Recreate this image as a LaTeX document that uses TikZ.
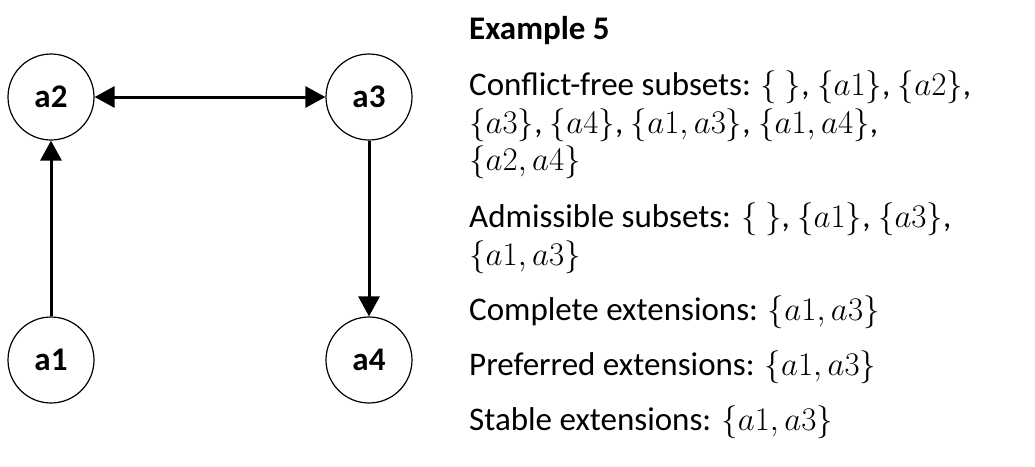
\RequirePackage{fix-cm}
\documentclass[tikz,border=0pt]{standalone}
\usepackage{fontspec}
\setmainfont{Carlito}
\usetikzlibrary{arrows.meta}
\tikzset{>={Triangle[length=20pt,width=21pt]}}
\tikzset{arg/.style={draw, circle, line width=1.2pt, minimum size=86pt, inner sep=0pt, font=\fontsize{33}{37}\selectfont\bfseries},
  txt/.style={anchor=base west, inner sep=0pt, font=\fontsize{33}{37}\selectfont}}

\begin{document}
\begin{tikzpicture}[x=1pt,y=-1pt]
\useasboundingbox (0,0) rectangle (1035,466);
% arguments
\node[arg] (a2) at (51,97) {a2};
\node[arg] (a3) at (369,97) {a3};
\node[arg] (a1) at (51,360) {a1};
\node[arg] (a4) at (369,360) {a4};
% attacks
\draw[<->, line width=3pt] (a2) -- (a3);
\draw[->, line width=3pt] (a1) -- (a2);
\draw[->, line width=3pt] (a3) -- (a4);
% semantics
\node[txt, font=\fontsize{33}{37}\selectfont\bfseries] (title) at (469,39) {Example 5};
\node[txt] (cf1) at (469,95) {Conflict-free subsets: $\{\ \}$, $\{a1\}$, $\{a2\}$,};
\node[txt] (cf2) at (469,133) {$\{a3\}$, $\{a4\}$, $\{a1, a3\}$, $\{a1, a4\}$,};
\node[txt] (cf3) at (469,170) {$\{a2, a4\}$};
\node[txt] (adm1) at (469,227) {Admissible subsets: $\{\ \}$, $\{a1\}$, $\{a3\}$,};
\node[txt] (adm2) at (469,265) {$\{a1, a3\}$};
\node[txt] (comp) at (469,320) {Complete extensions: $\{a1, a3\}$};
\node[txt] (pref) at (469,375) {Preferred extensions: $\{a1, a3\}$};
\node[txt] (stab) at (469,430) {Stable extensions: $\{a1, a3\}$};
\end{tikzpicture}
\end{document}
